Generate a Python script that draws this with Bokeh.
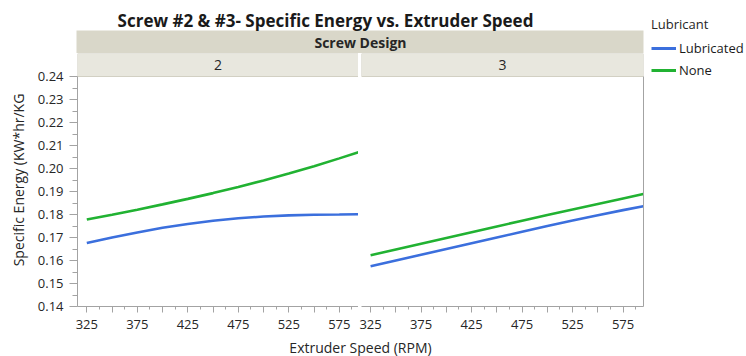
from bokeh.plotting import figure
from bokeh.models import (ColumnDataSource, Range1d, FixedTicker, NumeralTickFormatter,
                          LinearAxis, Legend, LegendItem)
from bokeh.layouts import row, column
from bokeh.core.properties import value
from bokeh.embed import file_html
from bokeh.resources import INLINE

# ---------------- data ----------------
rpm = [325, 350, 375, 400, 425, 450, 475, 500, 525, 550, 575, 595]
screw2_lubricated = [0.1676, 0.1700, 0.1722, 0.1742, 0.1759, 0.1773, 0.1784, 0.1791, 0.1796, 0.1799, 0.1800, 0.1801]
screw2_none = [0.1778, 0.1799, 0.1821, 0.1844, 0.1868, 0.1893, 0.1920, 0.1948, 0.1978, 0.2010, 0.2044, 0.2072]
screw3_lubricated = [0.1575, 0.1600, 0.1625, 0.1650, 0.1675, 0.1700, 0.1725, 0.1750, 0.1774, 0.1797, 0.1819, 0.1836]
screw3_none = [0.1623, 0.1648, 0.1673, 0.1698, 0.1723, 0.1748, 0.1773, 0.1798, 0.1822, 0.1846, 0.1870, 0.1889]

screw_designs = ["2", "3"]
lubricants = ["Lubricated", "None"]
legend_title = "Lubricant"
chart_title = "Screw #2 & #3- Specific Energy vs. Extruder Speed"
strip_title = "Screw Design"
x_label = "Extruder Speed (RPM)"
y_label = "Specific Energy (KW*hr/KG"

y_ticks = [0.14, 0.15, 0.16, 0.17, 0.18, 0.19, 0.20, 0.21, 0.22, 0.23, 0.24]
y_minor = [0.145, 0.155, 0.165, 0.175, 0.185, 0.195, 0.205, 0.215, 0.225, 0.235]
x_ticks = [325, 350, 375, 400, 425, 450, 475, 500, 525, 550, 575]
x_minor = [337.5, 362.5, 387.5, 412.5, 437.5, 462.5, 487.5, 512.5, 537.5, 562.5, 587.5]
x_unlabeled = [350, 400, 450, 500, 550]

# ---------------- style ----------------
FONT = "Open Sans"
COLORS = ["#3b6fdd", "#21b232"]
AXIS_COLOR = "#a3a3a3"
TEXT_COLOR = "#262626"
STRIP_MAIN = "#d9d7c9"
STRIP_SUB = "#e8e7de"
STRIP_LINE = "#d2d0c3"

Y0, Y1 = 0.14, 0.24
HEADER_H = 53
STRIP_PX = 23
DATA_PX = 230
BOTTOM = 31
PANEL_H = STRIP_PX + DATA_PX + BOTTOM
FOOTER_H = 19
Y_TOP = Y1 + (Y1 - Y0) * STRIP_PX / DATA_PX
TOTAL_H = HEADER_H + PANEL_H + FOOTER_H


def style_axes(p):
    for ax in p.xaxis:
        ax.ticker = FixedTicker(ticks=x_ticks, minor_ticks=x_minor)
        ax.major_label_overrides = {float(t): "" for t in x_unlabeled}
        ax.major_tick_out = 6
        ax.major_tick_in = 0
        ax.minor_tick_out = 3
        ax.minor_tick_in = 0
        ax.major_label_standoff = 7
        ax.axis_line_color = AXIS_COLOR
        ax.major_tick_line_color = AXIS_COLOR
        ax.minor_tick_line_color = AXIS_COLOR
        ax.major_label_text_font = FONT
        ax.major_label_text_font_size = "13px"
        ax.major_label_text_color = TEXT_COLOR
    for ax in p.yaxis:
        ax.ticker = FixedTicker(ticks=y_ticks, minor_ticks=y_minor)
        ax.formatter = NumeralTickFormatter(format="0.00")
        ax.bounds = (Y0, Y1)
        ax.major_tick_out = 8
        ax.major_tick_in = 0
        ax.minor_tick_out = 5
        ax.minor_tick_in = 0
        ax.major_label_standoff = 6
        ax.axis_line_color = AXIS_COLOR
        ax.major_tick_line_color = AXIS_COLOR
        ax.minor_tick_line_color = AXIS_COLOR
        ax.major_label_text_font = FONT
        ax.major_label_text_font_size = "13px"
        ax.major_label_text_color = TEXT_COLOR
        ax.axis_label = y_label
        ax.axis_label_text_font = FONT
        ax.axis_label_text_font_size = "14px"
        ax.axis_label_text_font_style = "normal"
        ax.axis_label_text_color = TEXT_COLOR
        ax.axis_label_standoff = 7


def make_panel(label, lub, non, width, b_left, b_right, x_start, x_end, show_y):
    p = figure(width=width, height=PANEL_H, x_range=Range1d(x_start, x_end),
               y_range=Range1d(Y0, Y_TOP), output_backend="svg", toolbar_location=None,
               tools="", min_border=0, min_border_left=b_left, min_border_right=b_right,
               min_border_top=0, min_border_bottom=BOTTOM,
               y_axis_location="left" if show_y else None)
    p.outline_line_color = None
    p.xgrid.visible = False
    p.ygrid.visible = False
    p.background_fill_color = "white"
    p.border_fill_color = "white"
    style_axes(p)
    # panel strip (facet label)
    p.quad(left=[x_start], right=[x_end], bottom=[Y1], top=[Y_TOP],
           fill_color=STRIP_SUB, line_color=STRIP_LINE, line_width=1)
    p.text(x=[(x_start + x_end) / 2], y=[(Y1 + Y_TOP) / 2], text=[label],
           text_font=value(FONT), text_font_size="14px", text_align="center",
           text_baseline="middle", text_color=TEXT_COLOR)
    src = ColumnDataSource(dict(rpm=rpm, lub=lub, non=non))
    p.line("rpm", "lub", source=src, line_color=COLORS[0], line_width=2.6)
    p.line("rpm", "non", source=src, line_color=COLORS[1], line_width=2.6)
    return p


left = make_panel(screw_designs[0], screw2_lubricated, screw2_none, 358, 77, 0, 315.8, 594.0, True)
right = make_panel(screw_designs[1], screw3_lubricated, screw3_none, 287, 3, 2, 316.0, 595.2, False)
right_edge = LinearAxis(bounds=(Y0, Y1), ticker=FixedTicker(ticks=[]), major_tick_out=0,
                        major_tick_in=0, minor_tick_out=0, minor_tick_in=0,
                        major_label_standoff=0, axis_line_color=AXIS_COLOR)
right.add_layout(right_edge, "right")

# ---------------- header (title + spanning strip) ----------------
header = figure(width=645, height=HEADER_H, x_range=Range1d(0, 645), y_range=Range1d(HEADER_H, 0),
                output_backend="svg", toolbar_location=None, tools="", min_border=0,
                x_axis_location=None, y_axis_location=None)
header.outline_line_color = None
header.xgrid.visible = False
header.ygrid.visible = False
header.quad(left=[76], right=[643], top=[30], bottom=[HEADER_H], fill_color=STRIP_MAIN,
            line_color=None)
header.text(x=[360], y=[41.5], text=[strip_title], text_font=value(FONT),
            text_font_size="14px", text_font_style="bold", text_align="center",
            text_baseline="middle", text_color=TEXT_COLOR)
header.text(x=[325], y=[19.5], text=[chart_title], text_font=value(FONT),
            text_font_size="17px", text_font_style="bold", text_align="center",
            text_baseline="middle", text_color="#1a1a1a")

# ---------------- footer (shared x axis label) ----------------
footer = figure(width=645, height=FOOTER_H, x_range=Range1d(0, 645), y_range=Range1d(FOOTER_H, 0),
                output_backend="svg", toolbar_location=None, tools="", min_border=0,
                x_axis_location=None, y_axis_location=None)
footer.outline_line_color = None
footer.xgrid.visible = False
footer.ygrid.visible = False
footer.text(x=[360], y=[FOOTER_H / 2], text=[x_label], text_font=value(FONT),
            text_font_size="14px", text_align="center", text_baseline="middle",
            text_color=TEXT_COLOR)

# ---------------- legend ----------------
leg = figure(width=101, height=TOTAL_H, x_range=Range1d(0, 1),
             y_range=Range1d(0, 1), output_backend="svg", toolbar_location=None, tools="",
             min_border=0, min_border_left=6, min_border_top=15,
             x_axis_location=None, y_axis_location=None)
leg.outline_line_color = None
leg.xgrid.visible = False
leg.ygrid.visible = False
# legend keys (their points lie outside the visible range)
r1 = leg.line(x=[0, 1], y=[-2, -2], line_color=COLORS[0], line_width=3)
r2 = leg.line(x=[0, 1], y=[-2, -2], line_color=COLORS[1], line_width=3)
legend = Legend(items=[LegendItem(label=value(lubricants[0]), renderers=[r1]),
                       LegendItem(label=value(lubricants[1]), renderers=[r2])],
                title=legend_title, location="top_left", padding=0, margin=0,
                spacing=2, glyph_width=25, glyph_height=20, label_height=20,
                label_standoff=3, title_standoff=5, border_line_color=None,
                background_fill_alpha=0, label_text_font=FONT,
                label_text_font_size="13px", label_text_color="#1a1a1a",
                title_text_font=FONT, title_text_font_size="13px",
                title_text_font_style="normal", title_text_color=TEXT_COLOR)
leg.add_layout(legend)

layout = row(column(header, row(left, right), footer), leg)

open("out.html", "w").write(file_html(layout, INLINE))
